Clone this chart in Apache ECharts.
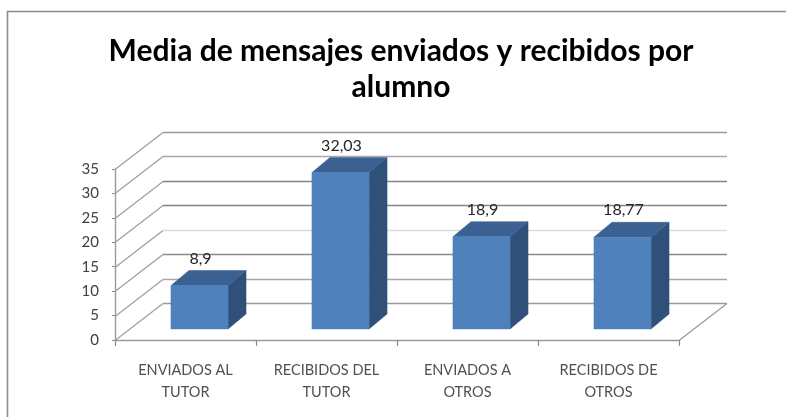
<!DOCTYPE html>
<html>
<head>
<meta charset="utf-8">
<style>
html,body{margin:0;padding:0;background:#fff;overflow:hidden}
#c{width:786px;height:417px;filter:blur(0.55px)}
</style>
<script src="https://cdn.jsdelivr.net/npm/echarts@6/dist/echarts.min.js"></script>
</head>
<body>
<div id="c"></div>
<script>
const titleText = "Media de mensajes enviados y recibidos por\nalumno";
const categories = ["ENVIADOS AL\nTUTOR", "RECIBIDOS DEL\nTUTOR", "ENVIADOS A\nOTROS", "RECIBIDOS DE\nOTROS"];
const values = [8.9, 32.03, 18.9, 18.77];
const yTicks = [0, 5, 10, 15, 20, 25, 30, 35];
const wallLineColors = ["#9a9a9a", "#a6a6a6", "#8a8a8a", "#dcdcdc", "#858585", "#858585", "#a8a8a8", "#999999"];

const WALL_DX = 48, WALL_DY = -37;
const BAR_FRONT_DX = 14, BAR_FRONT_DY = -11;
const BAR_DEPTH_DX = 18, BAR_DEPTH_DY = -15;

function line(pts, color, w) {
  return { type: 'polyline', shape: { points: pts }, silent: true,
    style: { stroke: color, lineWidth: w, fill: null } };
}
function snap(v) { return Math.round(v) + 0.5; }

function renderWall(params, api) {
  const cs = params.coordSys;
  const y = snap(api.coord([0, api.value(0)])[1]);
  const left = cs.x, right = cs.x + cs.width;
  const idx = params.dataIndex;
  const children = [
    line([[left, y], [left + WALL_DX, y + WALL_DY]], '#a0a0a0', 1.3),
    line([[left + WALL_DX, y + WALL_DY], [right + WALL_DX, y + WALL_DY]], wallLineColors[idx], 1.5)
  ];
  if (idx === 0) {
    children.push(line([[right, y], [right + WALL_DX, y + WALL_DY]], '#9a9a9a', 1.2));
  }
  return { type: 'group', children };
}

function renderBar(params, api) {
  const val = api.value(1);
  const c = api.coord([api.value(0), val]);
  const base = api.coord([api.value(0), 0]);
  const w = api.size([1, 0])[0] * 0.405;
  const x0 = c[0] - w / 2 + BAR_FRONT_DX, x1 = x0 + w;
  const yTop = c[1] + BAR_FRONT_DY, yBase = base[1] + BAR_FRONT_DY;
  const dx = BAR_DEPTH_DX, dy = BAR_DEPTH_DY;
  const poly = (pts, fill) => ({ type: 'polygon', shape: { points: pts },
    style: { fill, stroke: fill, lineWidth: 0.5 } });
  return { type: 'group', children: [
    poly([[x1, yTop], [x1 + dx, yTop + dy], [x1 + dx, yBase + dy], [x1, yBase]], '#2F5078'),
    poly([[x0, yTop], [x0 + dx, yTop + dy], [x1 + dx, yTop + dy], [x1, yTop]], '#3A6191'),
    poly([[x0, yTop], [x1, yTop], [x1, yBase], [x0, yBase]], '#4F81BD'),
    { type: 'text', silent: true, style: {
        x: (x0 + x1) / 2 + 1, y: yTop + dy - 12,
        text: String(val).replace('.', ','),
        fill: '#262626', font: '16px Lato',
        align: 'center', verticalAlign: 'middle' } }
  ]};
}

const chart = echarts.init(document.getElementById('c'), null, { renderer: 'canvas' });
chart.setOption({
  animation: false,
  backgroundColor: '#fff',
  title: {
    text: titleText, left: 396, top: 28, textAlign: 'center',
    textStyle: { fontFamily: 'Lato', fontWeight: 'bold', fontSize: 30, lineHeight: 36, color: '#000' }
  },
  graphic: [{
    type: 'polyline', silent: true, z: -1,
    shape: { points: [[7.5, 420], [7.5, 11.5], [790, 11.5]] },
    style: { stroke: '#8c8c8c', lineWidth: 1.6, fill: null }
  }],
  grid: { left: 115, right: 107, top: 169, bottom: 77, containLabel: false },
  xAxis: {
    type: 'category', data: categories, boundaryGap: true,
    axisLine: { show: true, lineStyle: { color: '#9a9a9a', width: 1.4 } },
    axisTick: { show: true, alignWithLabel: false, length: 6, lineStyle: { color: '#8a8a8a', width: 1.2 } },
    axisLabel: { color: '#505050', fontFamily: 'Lato', fontSize: 14.5, lineHeight: 22, margin: 19, interval: 0 },
    splitLine: { show: false }
  },
  yAxis: {
    type: 'value', min: 0, max: 35, interval: 5,
    axisLine: { show: true, lineStyle: { color: '#9a9a9a', width: 1.4 } },
    axisTick: { show: true, length: 3, lineStyle: { color: '#8a8a8a', width: 1 } },
    axisLabel: { color: '#404040', fontFamily: 'Lato', fontSize: 15, margin: 16 },
    splitLine: { show: false }
  },
  series: [
    { type: 'custom', renderItem: renderWall, clip: false, silent: true, z: 1,
      data: yTicks.map(v => [v]), encode: { y: 0 } },
    { type: 'custom', renderItem: renderBar, clip: false, silent: true, z: 2,
      data: values.map((v, i) => [i, v]), encode: { x: 0, y: 1 } }
  ]
});
</script>
</body>
</html>
